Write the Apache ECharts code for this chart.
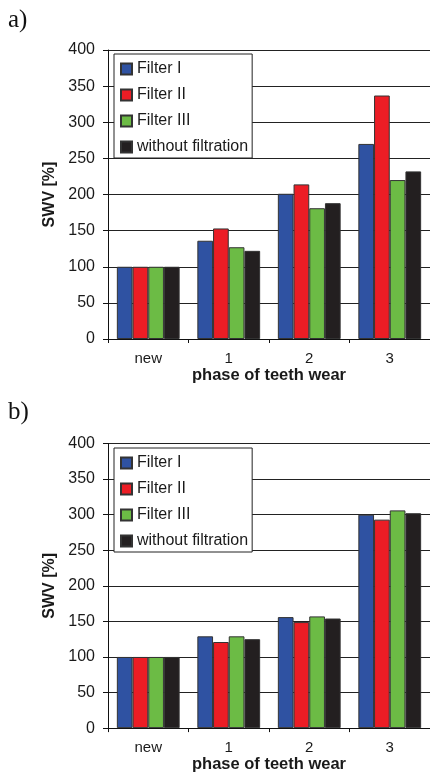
<!DOCTYPE html>
<html>
<head>
<meta charset="utf-8">
<script src="https://cdn.jsdelivr.net/npm/echarts@6/dist/echarts.min.js"></script>
<style>
  html, body { margin: 0; padding: 0; background: #fff; }
  #chart { width: 430px; height: 774px; }
</style>
</head>
<body>
<div id="chart"></div>
<script>
// Phases of teeth wear on the category axis
const categories = ['new', '1', '2', '3'];
const seriesNames = ['Filter I', 'Filter II', 'Filter III', 'without filtration'];
const seriesColors = ['#2F52A2', '#EC1D25', '#6CBB45', '#231F20'];

// Panel a) SWV [%]
const filterIA = [100, 136, 201, 270];
const filterIIA = [100, 153, 214, 337];
const filterIIIA = [100, 127, 181, 220];
const noFilterA = [100, 122, 188, 232];

// Panel b) SWV [%]
const filterIB = [100, 129, 156, 300];
const filterIIB = [100, 121, 149, 293];
const filterIIIB = [100, 129, 157, 306];
const noFilterB = [100, 125, 154, 302];

// Value axis ticks
const yMin = 0, yMax = 400, yStep = 50;

const panelA = [filterIA, filterIIA, filterIIIA, noFilterA];
const panelB = [filterIB, filterIIB, filterIIIB, noFilterB];

const sans = 'Liberation Sans, Arial, sans-serif';

function xAxisFor(gridIndex) {
  return {
    type: 'category',
    gridIndex: gridIndex,
    data: categories,
    name: 'phase of teeth wear',
    nameLocation: 'middle',
    nameGap: 26,
    nameTextStyle: { fontFamily: sans, fontSize: 16.5, fontWeight: 'bold', color: '#1a1a1a' },
    axisLine: { show: true, lineStyle: { color: '#111', width: 1 } },
    axisTick: { show: true, length: 4, lineStyle: { color: '#111' } },
    axisLabel: { fontFamily: sans, fontSize: 15, color: '#1a1a1a', margin: 12 },
    splitLine: { show: false }
  };
}

function yAxisFor(gridIndex) {
  return {
    type: 'value',
    gridIndex: gridIndex,
    min: yMin,
    max: yMax,
    interval: yStep,
    name: 'SWV [%]',
    nameLocation: 'middle',
    nameGap: 49,
    nameTextStyle: { fontFamily: sans, fontSize: 16, fontWeight: 'bold', color: '#1a1a1a' },
    axisLine: { show: true, lineStyle: { color: '#111', width: 1 } },
    axisTick: { show: true, length: 5, lineStyle: { color: '#111' } },
    axisLabel: { fontFamily: sans, fontSize: 16, color: '#1a1a1a', margin: 13 },
    splitLine: { show: true, lineStyle: { color: '#222', width: 1 } }
  };
}

function legendFor(top) {
  return {
    orient: 'vertical',
    left: 114,
    top: top,
    data: seriesNames,
    itemWidth: 11,
    itemHeight: 11,
    itemGap: 10,
    padding: [7, 4, 3, 6],
    backgroundColor: '#fff',
    borderColor: '#222',
    borderWidth: 1,
    borderRadius: 0,
    icon: 'rect',
    selectedMode: false,
    textStyle: { fontFamily: sans, fontSize: 16, color: '#1a1a1a' }
  };
}

function seriesFor(panel, axisIndex) {
  return panel.map(function (values, i) {
    return {
      name: seriesNames[i],
      type: 'bar',
      xAxisIndex: axisIndex,
      yAxisIndex: axisIndex,
      data: values,
      barGap: '0%',
      barCategoryGap: '22%',
      itemStyle: { color: seriesColors[i], borderColor: '#333', borderWidth: 1 },
      emphasis: { disabled: true },
      animation: false
    };
  });
}

const chart = echarts.init(document.getElementById('chart'), null, { renderer: 'canvas' });

chart.setOption({
  backgroundColor: '#fff',
  animation: false,
  graphic: [
    { type: 'text', left: 8, top: 8, style: { text: 'a)', font: '25px "Liberation Serif", "Times New Roman", serif', fill: '#111' } },
    { type: 'text', left: 8, top: 400, style: { text: 'b)', font: '25px "Liberation Serif", "Times New Roman", serif', fill: '#111' } }
  ],
  legend: [legendFor(54), legendFor(448)],
  grid: [
    { left: 108, top: 50, width: 323, height: 289, containLabel: false },
    { left: 108, top: 443.5, width: 323, height: 287.5, containLabel: false }
  ],
  xAxis: [xAxisFor(0), xAxisFor(1)],
  yAxis: [yAxisFor(0), yAxisFor(1)],
  series: seriesFor(panelA, 0).concat(seriesFor(panelB, 1))
});
</script>
</body>
</html>
